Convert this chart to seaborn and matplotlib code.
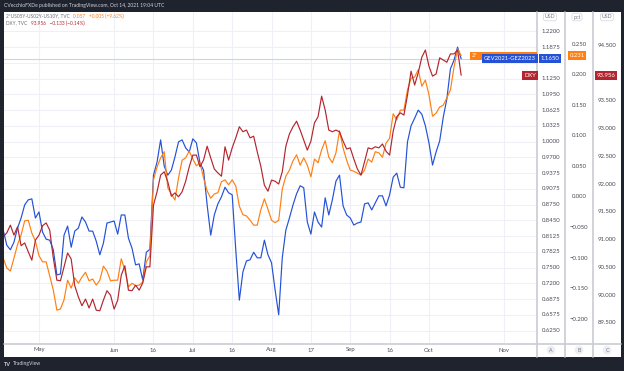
import numpy as np
import pandas as pd
import matplotlib
matplotlib.use("Agg")
import matplotlib.pyplot as plt
import matplotlib.transforms as mtrans
from matplotlib.patches import Rectangle
from matplotlib.lines import Line2D
import seaborn as sns

# ---------------- data ----------------
start_date = "2021-04-19"
end_date = "2021-10-14"

gev_spread = [0.825, 0.795, 0.786, 0.801, 0.829, 0.849, 0.875, 0.885, 0.887, 0.849,
              0.861, 0.821, 0.807, 0.805, 0.786, 0.736, 0.738, 0.815, 0.833, 0.791,
              0.823, 0.829, 0.851, 0.841, 0.823, 0.823, 0.803, 0.776, 0.799, 0.839,
              0.841, 0.843, 0.817, 0.855, 0.855, 0.809, 0.789, 0.756, 0.758, 0.726,
              0.781, 0.787, 0.934, 0.960, 1.004, 0.952, 0.934, 0.944, 0.970, 1.000,
              1.004, 0.988, 0.980, 1.006, 0.998, 0.958, 0.944, 0.875, 0.815, 0.855,
              0.877, 0.891, 0.910, 0.899, 0.895, 0.786, 0.686, 0.742, 0.764, 0.766,
              0.781, 0.770, 0.770, 0.805, 0.776, 0.760, 0.706, 0.657, 0.770, 0.825,
              0.849, 0.875, 0.897, 0.913, 0.909, 0.841, 0.817, 0.861, 0.841, 0.831,
              0.889, 0.855, 0.885, 0.922, 0.934, 0.873, 0.855, 0.849, 0.835, 0.839,
              0.841, 0.877, 0.879, 0.865, 0.879, 0.893, 0.893, 0.873, 0.895, 0.930,
              0.938, 0.910, 0.909, 1.000, 1.032, 1.047, 1.063, 1.055, 1.032, 0.998,
              0.954, 0.980, 1.002, 1.049, 1.085, 1.145, 1.162, 1.188, 1.165]

us_fly = [-0.100, -0.116, -0.121, -0.100, -0.078, -0.062, -0.039, -0.038, -0.059, -0.072,
          -0.096, -0.106, -0.106, -0.129, -0.152, -0.185, -0.183, -0.168, -0.136, -0.149,
          -0.132, -0.141, -0.131, -0.123, -0.137, -0.134, -0.144, -0.136, -0.113, -0.121,
          -0.137, -0.136, -0.136, -0.101, -0.119, -0.147, -0.141, -0.145, -0.144, -0.139,
          -0.106, -0.096, 0.028, 0.049, 0.064, 0.074, 0.015, 0.005, -0.005, 0.031,
          0.060, 0.064, 0.075, 0.062, 0.051, 0.056, 0.031, 0.010, -0.002, 0.005,
          0.007, 0.025, 0.028, 0.020, 0.028, 0.018, -0.015, -0.029, -0.031, -0.038,
          -0.046, -0.046, -0.021, -0.003, -0.020, -0.038, -0.042, -0.038, 0.013, 0.034,
          0.044, 0.059, 0.069, 0.052, 0.064, 0.052, 0.033, 0.062, 0.056, 0.077,
          0.092, 0.065, 0.056, 0.072, 0.108, 0.080, 0.060, 0.044, 0.042, 0.039,
          0.036, 0.044, 0.062, 0.057, 0.074, 0.072, 0.065, 0.088, 0.096, 0.136,
          0.126, 0.142, 0.142, 0.175, 0.194, 0.196, 0.208, 0.181, 0.191, 0.167,
          0.132, 0.137, 0.147, 0.150, 0.162, 0.175, 0.212, 0.242, 0.231]

dxy = [91.05, 91.12, 91.26, 91.08, 91.23, 90.89, 90.94, 90.78, 90.63, 90.99,
       91.08, 91.25, 91.30, 91.17, 90.67, 90.27, 90.26, 90.51, 90.76, 90.65,
       90.17, 89.97, 89.81, 89.93, 89.77, 89.93, 89.73, 89.72, 89.91, 90.08,
       90.00, 89.75, 89.91, 90.36, 90.53, 90.09, 90.08, 90.18, 90.09, 90.22,
       90.51, 90.51, 91.62, 91.86, 92.16, 92.22, 92.04, 91.78, 91.84, 91.77,
       91.86, 92.05, 92.31, 92.52, 92.52, 92.31, 92.43, 92.68, 92.47, 92.27,
       92.20, 92.14, 92.67, 92.43, 92.65, 92.83, 93.03, 92.94, 92.97, 92.83,
       92.86, 92.58, 92.32, 91.98, 91.87, 92.07, 92.05, 92.00, 92.22, 92.68,
       92.90, 93.03, 93.13, 92.97, 92.79, 92.61, 92.77, 93.10, 93.21, 93.58,
       93.33, 92.97, 92.94, 92.97, 92.94, 92.77, 92.63, 92.65, 92.45, 92.27,
       92.16, 92.40, 92.65, 92.63, 92.67, 92.65, 92.72, 92.59, 92.52, 92.95,
       93.21, 93.28, 93.24, 93.60, 94.03, 93.78, 94.00, 94.28, 94.41, 94.12,
       93.94, 93.98, 94.27, 94.23, 94.19, 94.34, 94.34, 94.41, 93.956]

# tick values (1.1575 and 94.000 exist but sit behind the last-value boxes)
a_ticks = [1.2200, 1.1875, 1.1575, 1.1250, 1.0950, 1.0625, 1.0325, 1.0000, 0.9700, 0.9375,
           0.9075, 0.8750, 0.8450, 0.8125, 0.7825, 0.7500, 0.7200, 0.6875, 0.6575, 0.6250]
b_ticks = [0.250, 0.200, 0.150, 0.100, 0.050, 0.000, -0.050, -0.100, -0.150, -0.200]
c_ticks = [94.5, 94.0, 93.5, 93.0, 92.5, 92.0, 91.5, 91.0, 90.5, 90.0, 89.5]
hidden_a = [1.1575]
hidden_c = [94.0]
x_tick_dates = ["2021-05-03", "2021-06-01", "2021-06-16", "2021-07-01", "2021-07-16", "2021-08-02",
                "2021-08-17", "2021-09-01", "2021-09-16", "2021-10-01", "2021-11-01"]
x_tick_labels = ["May", "Jun", "16", "Jul", "16", "Aug", "17", "Sep", "16", "Oct", "Nov"]

blue_name = "GEV2021-GEZ2023"
orange_name = "2*US05Y-US02Y-US10Y"
red_name = "DXY"
header = "CVecchioFXDe published on TradingView.com, Oct 14, 2021 19:04 UTC"
orange_quote = "0.057   +0.005 (+9.62%)"
red_quote = "93.956   \u22120.133 (\u22120.14%)"

# ---------------- style ----------------
sns.set_theme(style="white")
plt.rcParams["font.family"] = ["Lato", "DejaVu Sans"]

BLUE = "#2451d6"
ORANGE = "#ff7f12"
RED = "#b3262f"
DARK = "#1f232e"
TXT = "#4a4d57"
GRID = "#eef0f5"
SEP = "#c9ccd3"

dates = pd.bdate_range(start_date, end_date)
axis_days = pd.bdate_range(start_date, "2021-11-30")
df = pd.DataFrame({"pos": np.arange(len(dates)), "blue": gev_spread,
                   "orange": us_fly, "red": dxy})
xt = axis_days.get_indexer(pd.to_datetime(x_tick_dates))

W, H = 624, 371
fig = plt.figure(figsize=(W / 100, H / 100), dpi=100)
fig.patch.set_facecolor(DARK)


def fx(px):
    return px / W


def fy(py):
    return 1 - py / H


# white chart panel
fig.add_artist(Rectangle((fx(4), fy(357)), fx(621) - fx(4), fy(12) - fy(357),
                         transform=fig.transFigure, facecolor="white",
                         edgecolor="none", zorder=-5))

L, R, T, B = 4, 537, 12, 343
rect = [fx(L), fy(B), fx(R) - fx(L), fy(T) - fy(B)]
ax = fig.add_axes(rect)
ax_o = ax.twinx()
ax_r = ax.twinx()

ax.set_ylim(0.601, 1.2577)
ax_o.set_ylim(-0.2386, 0.3023)
ax_r.set_ylim(89.140, 95.094)
for a in (ax, ax_o, ax_r):
    a.set_xlim(0.22, 149.2)
    for s in a.spines.values():
        s.set_visible(False)

ax.set_facecolor("white")
ax.set_yticks(a_ticks)
ax.set_xticks(xt)
ax.grid(True, color=GRID, lw=0.8)
ax.tick_params(labelleft=False, labelbottom=False, length=0)
for a in (ax_o, ax_r):
    a.set_yticks([])
    a.tick_params(labelright=False, length=0)
    a.grid(False)

# price line for main series
ax.axhline(gev_spread[-1], color="#c5d3f5", lw=0.8, zorder=1)

sns.lineplot(data=df, x="pos", y="blue", ax=ax, color=BLUE, lw=0.85, zorder=3)
sns.lineplot(data=df, x="pos", y="orange", ax=ax_o, color=ORANGE, lw=0.85)
sns.lineplot(data=df, x="pos", y="red", ax=ax_r, color=RED, lw=0.85)
for a in (ax, ax_o, ax_r):
    a.set_xlabel("")
    a.set_ylabel("")

# separators
for xs in (537, 565, 593):
    fig.add_artist(Line2D([fx(xs)] * 2, [fy(12), fy(357)], color=SEP, lw=1.2,
                          transform=fig.transFigure, zorder=2))
fig.add_artist(Line2D([fx(4), fx(621)], [fy(343.5)] * 2, color=SEP, lw=1.2,
                      transform=fig.transFigure, zorder=2))

# right axis tick labels
tA = mtrans.blended_transform_factory(fig.transFigure, ax.transData)
tB = mtrans.blended_transform_factory(fig.transFigure, ax_o.transData)
tC = mtrans.blended_transform_factory(fig.transFigure, ax_r.transData)
for v in a_ticks:
    if v in hidden_a:
        continue
    fig.text(fx(551), v, f"{v:.4f}", transform=tA, ha="center", va="center",
             fontsize=4.3, color=TXT, zorder=3)
for v in b_ticks:
    lab = f"{v:.3f}".replace("-", "\u2212")
    if lab == "\u22120.000":
        lab = "0.000"
    fig.text(fx(579), v, lab, transform=tB, ha="center", va="center",
             fontsize=4.3, color=TXT, zorder=3)
for v in c_ticks:
    if v in hidden_c:
        continue
    fig.text(fx(607), v, f"{v:.3f}", transform=tC, ha="center", va="center",
             fontsize=4.3, color=TXT, zorder=3)

# x labels
tX = mtrans.blended_transform_factory(ax.transData, fig.transFigure)
for p, lab in zip(xt, x_tick_labels):
    fig.text(p, fy(350), lab, transform=tX, ha="center", va="center",
             fontsize=4.3, color=TXT, zorder=3)

# scale buttons
for xs, lab in ((551, "A"), (579, "B"), (607, "C")):
    fig.text(fx(xs), fy(350), lab, ha="center", va="center", fontsize=3.8, color="#787b86",
             bbox=dict(boxstyle="circle,pad=0.35", fc="#eceef2", ec="none"), zorder=3)

# unit boxes
for xs, lab in ((550, "USD"), (577, "pct"), (607, "USD")):
    fig.text(fx(xs), fy(17), lab, ha="center", va="center", fontsize=3.8, color="#787b86",
             bbox=dict(boxstyle="round,pad=0.25,rounding_size=0.4", fc="white",
                       ec="#d1d4dc", lw=0.5), zorder=3)

# in-plot and axis price labels
tAxO = mtrans.blended_transform_factory(ax.transAxes, ax_o.transData)
tAxB = mtrans.blended_transform_factory(ax.transAxes, ax.transData)
tAxR = mtrans.blended_transform_factory(ax.transAxes, ax_r.transData)
ax_w = fx(R) - fx(L)
o_left = 1 - (fx(R) - fx(470)) / ax_w
fig.add_artist(Rectangle((o_left, us_fly[-1] - 0.0065), 1 - o_left, 0.013, transform=tAxO,
                         facecolor=ORANGE, edgecolor="none", zorder=5))
fig.text(o_left + 0.003, us_fly[-1], "2*", transform=tAxO, ha="left", va="center",
         fontsize=4.2, color="white", zorder=6)
fig.text(0.998, gev_spread[-1], blue_name, transform=tAxB, ha="right", va="center",
         fontsize=4.2, color="white",
         bbox=dict(boxstyle="square,pad=0.3", fc=BLUE, ec="none"), zorder=7)
fig.text(0.998, dxy[-1], red_name, transform=tAxR, ha="right", va="center",
         fontsize=4.2, color="white",
         bbox=dict(boxstyle="square,pad=0.3", fc=RED, ec="none"), zorder=7)

fig.text(fx(550), gev_spread[-1], f"{gev_spread[-1]:.4f}", transform=tA, ha="center",
         va="center", fontsize=4.3, color="white",
         bbox=dict(boxstyle="square,pad=0.3", fc=BLUE, ec="none"), zorder=7)
fig.text(fx(577), us_fly[-1], f"{us_fly[-1]:.3f}", transform=tB, ha="center",
         va="center", fontsize=4.3, color="white",
         bbox=dict(boxstyle="square,pad=0.3", fc=ORANGE, ec="none"), zorder=7)
fig.text(fx(606), dxy[-1], f"{dxy[-1]:.3f}", transform=tC, ha="center",
         va="center", fontsize=4.3, color="white",
         bbox=dict(boxstyle="square,pad=0.3", fc=RED, ec="none"), zorder=7)

# header / legend / footer
fig.text(fx(4), fy(5.5), header, ha="left", va="center", fontsize=3.6, color="#d1d4dc")

t1 = fig.text(fx(6), fy(16), f"{orange_name}, TVC", ha="left", va="center",
              fontsize=3.4, color="#6a6d78")
fig.get_figure().canvas  # ensure canvas exists
fig.text(0, 0, "").set_visible(False)
a1 = plt.annotate(orange_quote, xy=(1, 0.5), xycoords=t1, xytext=(2.5, 0),
                  textcoords="offset points", ha="left", va="center",
                  fontsize=3.4, color=ORANGE, annotation_clip=False)
t2 = fig.text(fx(6), fy(23), f"{red_name}, TVC", ha="left", va="center",
              fontsize=3.4, color="#6a6d78")
a2 = plt.annotate(red_quote, xy=(1, 0.5), xycoords=t2, xytext=(2.5, 0),
                  textcoords="offset points", ha="left", va="center",
                  fontsize=3.4, color=RED, annotation_clip=False)

fig.text(fx(4), fy(364), "TV", ha="left", va="center", fontsize=4, color="#d1d4dc", fontweight="bold")
fig.text(fx(13), fy(364), "TradingView", ha="left", va="center", fontsize=3.6, color="#d1d4dc")

fig.savefig("out.png", dpi=100, facecolor=DARK)
